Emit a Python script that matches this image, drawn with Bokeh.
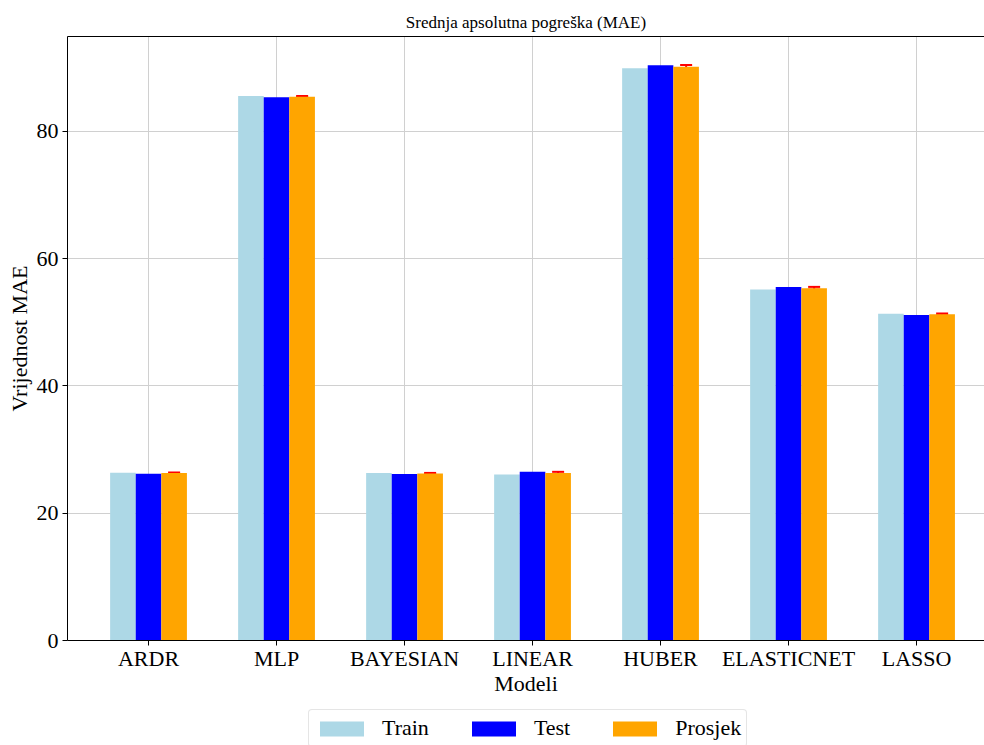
from bokeh.plotting import figure
from bokeh.models import (ColumnDataSource, Range1d, FixedTicker, LinearAxis,
                          Legend, LegendItem, Whisker, TeeHead)
from bokeh.layouts import column
from bokeh.transform import dodge
from bokeh.embed import file_html
from bokeh.resources import INLINE

models = ["ARDR", "MLP", "BAYESIAN", "LINEAR", "HUBER", "ELASTICNET", "LASSO"]
train = [26.35, 85.55, 26.3, 26.1, 89.9, 55.15, 51.35]
test = [26.2, 85.35, 26.15, 26.5, 90.4, 55.55, 51.15]
prosjek = [26.3, 85.45, 26.25, 26.3, 90.15, 55.35, 51.25]
prosjek_err = [0.1, 0.1, 0.08, 0.2, 0.28, 0.21, 0.13]
y_ticks = [0, 20, 40, 60, 80]
series_cols = ["train", "test", "prosjek"]
series_names = ["Train", "Test", "Prosjek"]
series_colors = ["#add8e6", "#0000ff", "#ffa500"]

FONT = "Liberation Serif"
idx = list(range(len(models)))

src = ColumnDataSource(dict(
    idx=idx, train=train, test=test, prosjek=prosjek,
    upper=[p + e for p, e in zip(prosjek, prosjek_err)],
    lower=[p - e for p, e in zip(prosjek, prosjek_err)],
))

p = figure(width=984, height=705, output_backend="svg", toolbar_location=None,
           x_range=Range1d(-0.633, 6.531), y_range=Range1d(0, 94.9),
           min_border_left=67, min_border_right=0, min_border_top=36,
           min_border_bottom=65)
p.outline_line_color = None

p.title.text = "Srednja apsolutna pogreška (MAE)"
p.title.align = "center"
p.title.text_font = FONT
p.title.text_font_size = "17px"
p.title.text_font_style = "normal"
p.title.text_color = "black"

w = 0.2
for col, off, color in zip(series_cols, [-w, 0, w], series_colors):
    p.vbar(x=dodge("idx", off, range=p.x_range), top=col, width=w, source=src,
           fill_color=color, line_color=None)

wh = Whisker(base=dodge("idx", w, range=p.x_range), upper="upper", lower="lower",
             source=src, line_color="red", line_width=2,
             upper_head=TeeHead(size=12, line_color="red", line_width=2),
             lower_head=TeeHead(size=12, line_color="red", line_width=2))
p.add_layout(wh)

# axes
p.xaxis.ticker = FixedTicker(ticks=idx)
p.xaxis.major_label_overrides = {i: m for i, m in enumerate(models)}
p.yaxis.ticker = FixedTicker(ticks=y_ticks)
for ax in (p.xaxis[0], p.yaxis[0]):
    ax.major_label_text_font = FONT
    ax.major_label_text_font_size = "22px"
    ax.major_label_text_color = "black"
    ax.axis_label_text_font = FONT
    ax.axis_label_text_font_size = "22px"
    ax.axis_label_text_font_style = "normal"
    ax.axis_label_text_color = "black"
    ax.axis_line_color = "black"
    ax.major_tick_line_color = "black"
    ax.major_tick_out = 5
    ax.major_tick_in = 0
    ax.minor_tick_line_color = None
p.xaxis.major_label_standoff = 0
p.xaxis.axis_label_standoff = -3
p.yaxis.major_label_standoff = 4
p.yaxis.axis_label_standoff = 2
p.xaxis.axis_label = "Modeli"
p.yaxis.axis_label = "Vrijednost MAE"

top_axis = LinearAxis(ticker=FixedTicker(ticks=[]), major_label_text_font_size="0px",
                      major_tick_line_color=None, minor_tick_line_color=None,
                      axis_line_color="black")
p.add_layout(top_axis, "above")

p.xgrid.grid_line_color = "#d0d0d0"
p.ygrid.grid_line_color = "#d0d0d0"

# legend strip below the chart (its bars lie outside its visible ranges)
lf = figure(width=984, height=40, output_backend="svg", toolbar_location=None,
            x_axis_type=None, y_axis_type=None, min_border=0,
            x_range=Range1d(-20, -19), y_range=Range1d(-2, -1))
lf.outline_line_color = None
lf.xgrid.visible = False
lf.ygrid.visible = False
items = []
for col, name, color in zip(series_cols, series_names, series_colors):
    r = lf.vbar(x="idx", top=col, width=0.2, source=src, fill_color=color,
                line_color=None)
    items.append(LegendItem(label=name, renderers=[r]))
legend = Legend(items=items, orientation="horizontal", location=(241, -2),
                label_text_font=FONT, label_text_font_size="22px",
                label_text_color="black",
                glyph_width=55, glyph_height=19, label_standoff=13, spacing=37,
                padding=5, margin=0, border_line_color="#cccccc",
                border_line_width=1, border_radius=4)
lf.add_layout(legend, "center")

open("out.html", "w").write(file_html(column(p, lf), INLINE))
